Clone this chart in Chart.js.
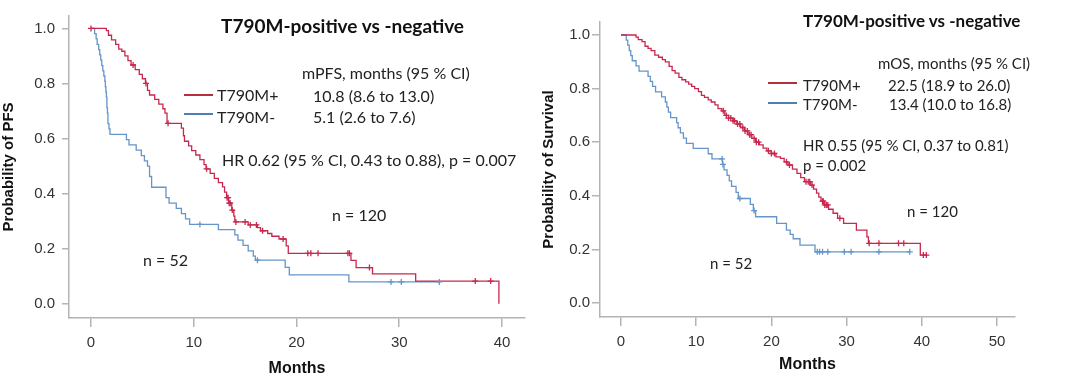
<!DOCTYPE html>
<html>
<head>
<meta charset="utf-8">
<script src="https://cdn.jsdelivr.net/npm/chart.js@4.4.1/dist/chart.umd.min.js"></script>
<style>
  html, body { margin:0; padding:0; background:#fff; }
  #wrap { position:relative; width:1080px; height:380px; overflow:hidden; }
  canvas { position:absolute; top:0; }
  .t { position:absolute; white-space:nowrap; font-family:Lato, "Open Sans", sans-serif; color:#222; line-height:1; transform:translateY(-50%); }
  .ln { position:absolute; height:2px; }
</style>
</head>
<body>
<div id="wrap">
  <canvas id="pfs" width="540" height="380" style="left:0"></canvas>
  <canvas id="os" width="540" height="380" style="left:540px"></canvas>
</div>
<script>
// ---------------- DATA ----------------
// Progression-free survival, T790M-positive (n = 120)
const pfsPosTime = [0,1.5,1.7,2.0,2.4,2.7,3.0,3.3,3.6,3.9,4.3,4.7,5.0,5.3,5.5,5.7,6.2,6.6,7.0,7.2,7.4,8.8,9.0,9.1,9.5,9.8,10.2,10.6,11.0,11.2,11.6,12.0,12.4,12.8,13.0,13.2,13.4,13.7,13.9,14.0,15.3,16.2,16.5,17.2,17.6,18.3,19.0,19.2,25.3,25.8,27.4,31.6,39.7];
const pfsPosSurv = [1.0,0.992,0.975,0.958,0.942,0.925,0.917,0.900,0.883,0.867,0.850,0.833,0.817,0.800,0.775,0.758,0.742,0.725,0.708,0.692,0.655,0.638,0.610,0.590,0.573,0.556,0.540,0.523,0.505,0.490,0.473,0.455,0.440,0.424,0.405,0.385,0.365,0.340,0.318,0.297,0.286,0.276,0.265,0.255,0.245,0.235,0.210,0.183,0.157,0.131,0.108,0.082,0.0];
const pfsPosCensor = [0,4.1,5.35,7.5,11.25,13.25,13.35,13.45,13.55,13.75,14.1,15.0,15.5,16.1,16.7,18.7,21.1,21.4,22.1,25.0,25.15,27.1,37.4,38.9];
// Progression-free survival, T790M-negative (n = 52)
const pfsNegTime = [0,0.35,0.5,0.6,0.75,0.85,0.95,1.05,1.15,1.25,1.35,1.4,1.45,1.5,1.55,1.6,1.65,1.75,1.85,3.45,3.7,4.4,4.9,5.2,5.5,5.7,5.9,7.3,7.6,8.3,8.8,9.2,9.6,12.4,14.0,14.3,14.8,15.3,15.8,16.0,18.9,19.3,25.1,33.9];
const pfsNegSurv = [1.0,0.981,0.962,0.942,0.923,0.904,0.885,0.865,0.846,0.827,0.808,0.788,0.769,0.750,0.712,0.692,0.654,0.635,0.615,0.596,0.577,0.558,0.538,0.519,0.500,0.462,0.423,0.385,0.365,0.346,0.327,0.308,0.288,0.269,0.250,0.231,0.212,0.192,0.173,0.158,0.132,0.105,0.079,0.079];
const pfsNegCensor = [10.6,16.2,29.2,30.2,33.9];

// Overall survival, T790M-positive (n = 120)
const osPosTime = [0,2.0,2.3,2.8,3.2,3.6,4.0,4.5,5.0,5.5,5.9,6.4,6.8,7.2,7.7,8.1,8.6,9.0,9.4,9.8,10.3,10.7,11.1,11.6,12.0,12.5,12.9,13.4,13.8,14.3,14.9,15.4,15.9,16.4,16.9,17.4,17.9,18.4,18.9,19.4,20.0,20.6,21.2,21.7,22.2,22.8,23.4,23.9,24.4,25.2,25.6,26.0,26.3,26.6,27.0,27.6,28.2,28.8,29.6,31.3,32.7,32.9,39.8,40.7];
const osPosSurv = [1.0,0.992,0.983,0.975,0.958,0.950,0.942,0.925,0.917,0.908,0.900,0.883,0.867,0.858,0.842,0.833,0.825,0.817,0.808,0.800,0.789,0.775,0.767,0.758,0.750,0.739,0.725,0.717,0.700,0.690,0.680,0.668,0.655,0.642,0.628,0.614,0.600,0.590,0.578,0.568,0.558,0.545,0.540,0.527,0.515,0.500,0.484,0.468,0.453,0.440,0.425,0.410,0.395,0.380,0.366,0.350,0.335,0.316,0.297,0.272,0.247,0.223,0.179,0.179];
const osPosCensor = [13.6,14.0,14.3,14.6,14.9,15.1,15.5,15.8,16.2,16.5,16.8,17.1,17.3,17.7,18.0,18.3,19.6,20.0,20.4,22.0,22.4,24.6,24.9,25.1,25.4,26.8,26.9,27.1,27.3,27.5,29.1,33.0,34.3,36.9,37.6,40.2,40.6];
// Overall survival, T790M-negative (n = 52)
const osNegTime = [0,0.7,0.9,1.1,1.3,1.5,2.0,2.4,3.6,3.9,4.2,4.6,5.4,5.9,6.1,6.3,6.6,7.4,7.6,7.9,8.3,8.7,9.6,11.6,12.1,13.5,13.7,14.1,14.4,14.7,15.3,15.6,17.2,17.6,17.9,20.7,22.0,22.5,22.9,23.8,25.8,38.4];
const osNegSurv = [1.0,0.981,0.962,0.942,0.923,0.904,0.885,0.865,0.846,0.827,0.808,0.788,0.769,0.750,0.731,0.712,0.692,0.673,0.654,0.635,0.615,0.596,0.577,0.557,0.538,0.517,0.497,0.476,0.456,0.435,0.413,0.390,0.368,0.345,0.322,0.297,0.272,0.256,0.240,0.216,0.191,0.191];
const osNegCensor = [13.45,13.55,15.8,17.7,26.1,26.4,26.8,27.5,29.7,30.6,34.3,38.4];

const pfsXTicks = [0,10,20,30,40];
const osXTicks = [0,10,20,30,40,50];
const yTicks = [0.0,0.2,0.4,0.6,0.8,1.0];

// ---------------- HELPERS ----------------
const RED = '#c8284e', BLUE = '#6595c9';
function pts(t, s){ return t.map((v,i)=>({x:v, y:s[i]})); }
function stepAt(t, s, x){ let v = s[0]; for (let i=0;i<t.length;i++){ if (t[i] <= x) v = s[i]; } return v; }
function censorPts(t, s, c){ return c.map(x=>({x:x, y:stepAt(t,s,x)})); }

function makeChart(id, cfg){
  const axisCol = '#b4b4b4';
  const tickFont = {family:'"Liberation Sans", Arial, sans-serif', size:15};
  const titleFont = {family:'"Liberation Sans", Arial, sans-serif', size:15, weight:'bold'};
  return new Chart(document.getElementById(id), {
    type:'scatter',
    data:{ datasets:[
      {data:pts(cfg.posT,cfg.posS), showLine:true, stepped:'before', borderColor:RED, borderWidth:1.3, pointRadius:0, order:2},
      {data:pts(cfg.negT,cfg.negS), showLine:true, stepped:'before', borderColor:BLUE, borderWidth:1.3, pointRadius:0, order:3},
      {data:censorPts(cfg.posT,cfg.posS,cfg.posC), showLine:false, pointStyle:'cross', pointRadius:3, borderColor:RED, borderWidth:1.3, order:0},
      {data:censorPts(cfg.negT,cfg.negS,cfg.negC), showLine:false, pointStyle:'cross', pointRadius:3, borderColor:BLUE, borderWidth:1.3, order:1}
    ]},
    options:{
      responsive:false, animation:false, devicePixelRatio:1,
      layout:{padding:{top:cfg.padTop, right:cfg.padRight, left:0, bottom:0}},
      plugins:{legend:{display:false}, tooltip:{enabled:false}},
      scales:{
        x:{type:'linear', min:cfg.xMin, max:cfg.xMax,
           afterBuildTicks:s=>{ s.ticks = cfg.xTicks.map(v=>({value:v})); },
           afterFit:s=>{ s.height = cfg.xAxisH; },
           grid:{display:true, drawOnChartArea:false, drawTicks:true, tickLength:9, color:axisCol, lineWidth:1.5},
           border:{display:true, color:axisCol, width:1.5},
           ticks:{font:tickFont, color:'#333', padding:7, callback:v=>String(v)},
           title:{display:true, text:'Months', font:{...titleFont, size:16}, color:'#111', padding:{top:4,bottom:cfg.xTitlePad}}},
        y:{type:'linear', min:cfg.yMin, max:cfg.yMax,
           afterBuildTicks:s=>{ s.ticks = yTicks.map(v=>({value:v})); },
           afterFit:s=>{ s.width = cfg.yAxisW; },
           grid:{display:true, drawOnChartArea:false, drawTicks:true, tickLength:cfg.yTickLen, color:axisCol, lineWidth:1.5},
           border:{display:true, color:axisCol, width:1.5},
           ticks:{font:tickFont, color:'#333', padding:cfg.yTickPad, callback:v=>v.toFixed(1)},
           title:{display:true, text:cfg.yTitle, font:titleFont, color:'#111', padding:{top:0,bottom:0}}}
      }
    }
  });
}

makeChart('pfs', {posT:pfsPosTime,posS:pfsPosSurv,posC:pfsPosCensor,negT:pfsNegTime,negS:pfsNegSurv,negC:pfsNegCensor,
  xMin:-2.14, xMax:42.24, yMin:-0.052, yMax:1.045, xTicks:pfsXTicks, padTop:0, padRight:15,
  xAxisH:62, yAxisW:69, yTickLen:7, yTickPad:7, xTitlePad:2, yTitle:'Probability of PFS'});
makeChart('os', {posT:osPosTime,posS:osPosSurv,posC:osPosCensor,negT:osNegTime,negS:osNegSurv,negC:osNegCensor,
  xMin:-2.79, xMax:52.39, yMin:-0.052, yMax:1.0485, xTicks:osXTicks, padTop:22, padRight:65,
  xAxisH:63, yAxisW:60, yTickLen:8, yTickPad:2, xTitlePad:6, yTitle:'Probability of Survival'});

// ---------------- ANNOTATIONS ----------------
const wrap = document.getElementById('wrap');
function txt(s, x, y, size, bold){
  const d = document.createElement('div'); d.className='t'; d.textContent = s;
  d.style.left = x+'px'; d.style.top = y+'px'; d.style.fontSize = size+'px';
  if (bold){ d.style.fontWeight = 'bold'; d.style.color = '#111'; }
  wrap.appendChild(d);
}
function seg(x1, x2, y, col){
  const d = document.createElement('div'); d.className='ln';
  d.style.left = x1+'px'; d.style.width = (x2-x1)+'px'; d.style.top = (y-1)+'px'; d.style.background = col;
  wrap.appendChild(d);
}
// left panel
txt('T790M-positive vs -negative', 221, 25, 19, true);
txt('mPFS, months (95 % CI)', 302, 73, 16);
seg(184, 213, 95, '#b5303a'); txt('T790M+', 217, 95, 16); txt('10.8 (8.6 to 13.0)', 313, 96, 16);
seg(184, 213, 114, '#4f7fb0'); txt('T790M-', 217, 117, 16); txt('5.1 (2.6 to 7.6)', 313, 117, 16);
txt('HR 0.62 (95 % CI, 0.43 to 0.88), p = 0.007', 222, 160, 16);
txt('n = 120', 332, 215, 16);
txt('n = 52', 143, 260, 16);
// right panel
txt('T790M-positive vs -negative', 803, 20, 17, true);
txt('mOS, months (95 % CI)', 878, 63, 15);
seg(768, 797, 83, '#b5303a'); txt('T790M+', 803, 85, 15); txt('22.5 (18.9 to 26.0)', 888, 85, 15);
seg(768, 797, 103, '#4f7fb0'); txt('T790M-', 803, 104, 15); txt('13.4 (10.0 to 16.8)', 889, 104, 15);
txt('HR 0.55 (95 % CI, 0.37 to 0.81)', 803, 145, 15);
txt('p = 0.002', 803, 165, 15);
txt('n = 120', 907, 211, 15);
txt('n = 52', 710, 263, 15);
</script>
</body>
</html>
